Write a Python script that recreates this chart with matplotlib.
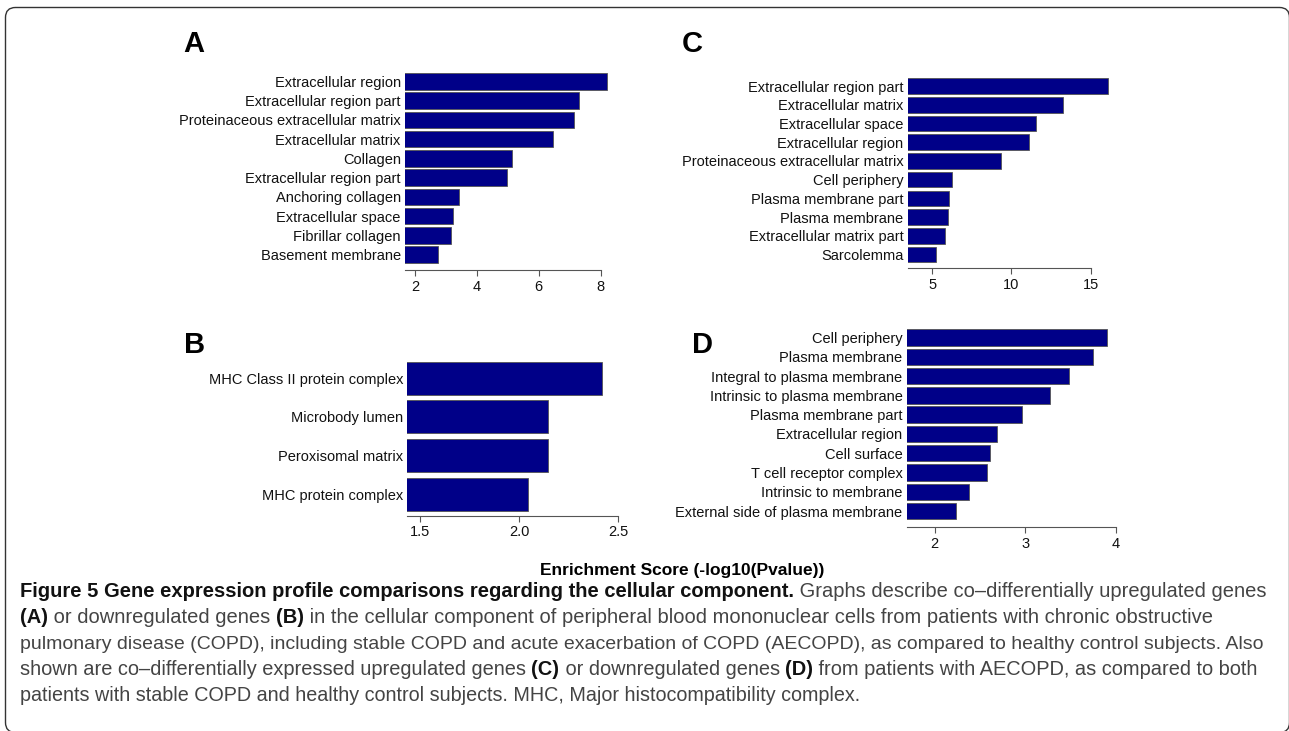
import matplotlib
matplotlib.use('Agg')
import matplotlib.pyplot as plt
from matplotlib.patches import FancyBboxPatch
from matplotlib.transforms import IdentityTransform

W, H = 1289, 731

# panel A: up-regulated, COPD vs control
a_terms = ['Extracellular region', 'Extracellular region part',
           'Proteinaceous extracellular matrix', 'Extracellular matrix',
           'Collagen', 'Extracellular region part', 'Anchoring collagen',
           'Extracellular space', 'Fibrillar collagen', 'Basement membrane']
a_scores = [8.22, 7.29, 7.13, 6.45, 5.15, 4.96, 3.41, 3.23, 3.18, 2.75]
a_ticks = [2, 4, 6, 8]

# panel B: down-regulated, COPD vs control
b_terms = ['MHC Class II protein complex', 'Microbody lumen',
           'Peroxisomal matrix', 'MHC protein complex']
b_scores = [2.416, 2.144, 2.144, 2.043]
b_ticks = [1.5, 2.0, 2.5]
b_ticklabels = ['1.5', '2.0', '2.5']

# panel C: up-regulated, AECOPD
c_terms = ['Extracellular region part', 'Extracellular matrix',
           'Extracellular space', 'Extracellular region',
           'Proteinaceous extracellular matrix', 'Cell periphery',
           'Plasma membrane part', 'Plasma membrane',
           'Extracellular matrix part', 'Sarcolemma']
c_scores = [16.1, 13.23, 11.55, 11.12, 9.34, 6.26, 6.03, 5.97, 5.82, 5.21]
c_ticks = [5, 10, 15]

# panel D: down-regulated, AECOPD
d_terms = ['Cell periphery', 'Plasma membrane', 'Integral to plasma membrane',
           'Intrinsic to plasma membrane', 'Plasma membrane part',
           'Extracellular region', 'Cell surface', 'T cell receptor complex',
           'Intrinsic to membrane', 'External side of plasma membrane']
d_scores = [3.91, 3.75, 3.48, 3.28, 2.97, 2.69, 2.61, 2.58, 2.38, 2.24]
d_ticks = [2, 3, 4]

xlabel = 'Enrichment Score (-log10(Pvalue))'

caption_lines = [
    [('Figure 5 Gene expression profile comparisons regarding the cellular component.', 'bold'),
     (' Graphs describe co\u2013differentially upregulated genes', 'normal')],
    [('(A)', 'bold'), (' or downregulated genes ', 'normal'), ('(B)', 'bold'),
     (' in the cellular component of peripheral blood mononuclear cells from patients with chronic obstructive', 'normal')],
    [('pulmonary disease (COPD), including stable COPD and acute exacerbation of COPD (AECOPD), as compared to healthy control subjects. Also', 'normal')],
    [('shown are co\u2013differentially expressed upregulated genes ', 'normal'), ('(C)', 'bold'),
     (' or downregulated genes ', 'normal'), ('(D)', 'bold'),
     (' from patients with AECOPD, as compared to both', 'normal')],
    [('patients with stable COPD and healthy control subjects. MHC, Major histocompatibility complex.', 'normal')],
]
caption_ends = [1262, 1215, 1262, 1262, 860]

plt.rcParams['font.family'] = ['Liberation Sans', 'DejaVu Sans']

BAR = '#000088'

fig = plt.figure(figsize=(W / 100, H / 100), dpi=100)


def panel(terms, scores, ticks, left, x0, x1, scale, top, bars_bottom, axis_y,
          h=0.85, ticklabels=None):
    n = len(terms)
    pitch = (bars_bottom - top) / (n - 1 + h)
    ylo = n - 1 + h / 2 + (axis_y - bars_bottom) / pitch
    right = left + (x1 - x0) * scale
    ax = fig.add_axes([left / W, 1 - axis_y / H, (right - left) / W, (axis_y - top) / H])
    ax.barh(range(n), scores, height=h, left=0, color=BAR,
            edgecolor='#555555', linewidth=0.6)
    ax.set_xlim(x0, x1)
    ax.set_ylim(ylo, -h / 2)
    ax.set_yticks(range(n))
    ax.set_yticklabels(terms, fontsize=10.5, color='#111111')
    ax.tick_params(axis='y', length=0, pad=3)
    ax.set_xticks(ticks)
    if ticklabels:
        ax.set_xticklabels(ticklabels)
    ax.tick_params(axis='x', length=4, width=0.8, color='#555555', pad=3,
                   labelsize=10.5, labelcolor='#111111')
    for s in ['top', 'right', 'left']:
        ax.spines[s].set_visible(False)
    ax.spines['bottom'].set_color('#555555')
    ax.spines['bottom'].set_linewidth(0.8)
    ax.spines['bottom'].set_bounds(x0, ticks[-1])
    ax.patch.set_visible(False)
    return ax


panel(a_terms, a_scores, a_ticks, 405, 1.68, 8.35, 30.95, 73, 263, 270, h=0.86)
panel(b_terms, b_scores, b_ticks, 407.3, 1.436, 2.5, 198.4, 361.7, 510.7, 515.7,
      h=0.85, ticklabels=b_ticklabels)
panel(c_terms, c_scores, c_ticks, 907.7, 3.45, 16.4, 15.84, 78.3, 262.3, 268, h=0.83)
panel(d_terms, d_scores, d_ticks, 906.7, 1.69, 4.0, 90.4, 329.3, 519.3, 527.3, h=0.85)

# panel letters
for letter, x, y in [('A', 183, 52), ('B', 184, 352.7), ('C', 681.7, 52.3), ('D', 691.7, 353.3)]:
    fig.text(x / W, 1 - y / H, letter, fontsize=21, fontweight='bold',
             ha='left', va='baseline')

fig.text(682.5 / W, 1 - 570 / H, xlabel, fontsize=12.5, fontweight='bold',
         ha='center', va='center')

# caption, drawn run by run so bold and normal parts can sit on one line
renderer = fig.canvas.get_renderer()


def line_width(runs, size):
    total = 0
    for txt, wt in runs:
        t = fig.text(0, 0, txt, fontsize=size, fontweight=wt)
        total += t.get_window_extent(renderer).width
        t.remove()
    return total


baselines = [597, 623, 649, 675, 701]
for runs, yb, xend in zip(caption_lines, baselines, caption_ends):
    size = 12 * (xend - 20) / line_width(runs, 12)
    x = 20
    for txt, wt in runs:
        col = '#111111' if wt == 'bold' else '#444444'
        t = fig.text(x / W, 1 - yb / H, txt, fontsize=size, fontweight=wt,
                     color=col, ha='left', va='baseline')
        x += t.get_window_extent(renderer).width

# rounded frame around the figure
frame = FancyBboxPatch((5.5, -1.5), 1284, H - 7.5 + 1.5,
                       boxstyle='round,pad=0,rounding_size=10',
                       transform=IdentityTransform(), fill=False,
                       edgecolor='#333333', linewidth=1.0)
fig.patches.append(frame)

fig.savefig('out.png', dpi=100)
